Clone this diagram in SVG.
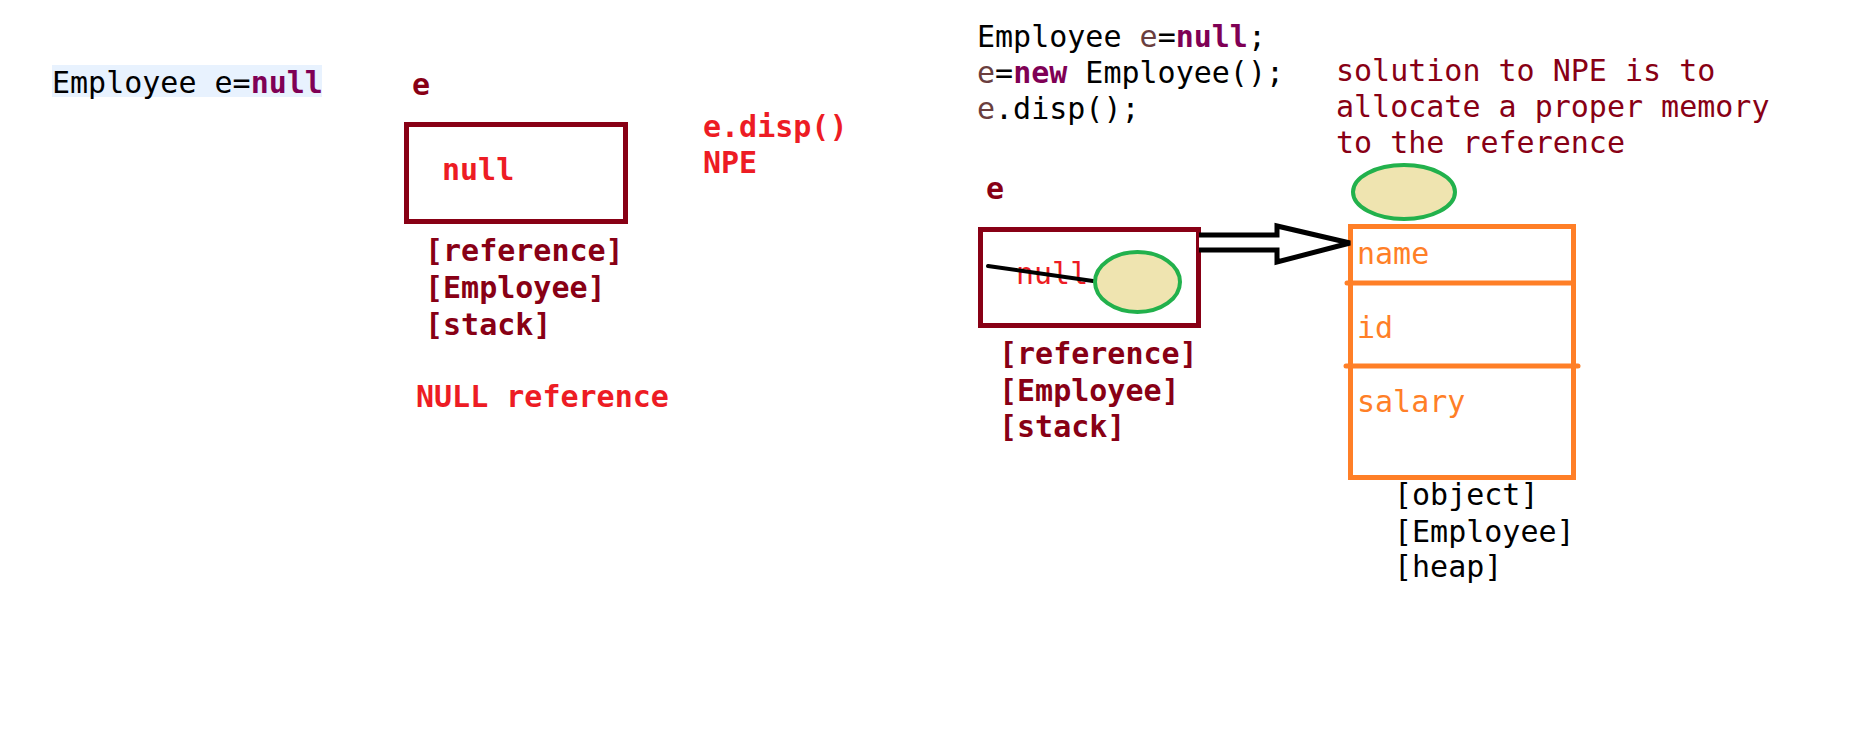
<svg xmlns="http://www.w3.org/2000/svg" width="1852" height="743" viewBox="0 0 1852 743">
<style>
text { font-family: "DejaVu Sans Mono", "Liberation Mono", monospace; font-size: 30px; }
.b { font-weight: bold; }
.dr { fill: #880015; }
.rd { fill: #ED1C24; }
.or { fill: #FF7F27; }
.bk { fill: #000000; }
.kw { fill: #7F0055; font-weight: bold; }
.lv { fill: #6A3E3E; }
.refbox { fill: none; stroke: #880015; stroke-width: 5; }
.objbox { fill: none; stroke: #FF7F27; stroke-width: 5; stroke-linecap: round; }
.blob { fill: #EFE4B0; stroke: #22B14C; stroke-width: 4; }
</style>
<rect width="1852" height="743" fill="#ffffff"/>

<g id="code-left">
  <rect x="52" y="65" width="270" height="32" fill="#E8F2FE"/>
  <text x="52" y="93" class="bk" font-size="29">Employee e=<tspan class="kw">null</tspan></text>
</g>

<g id="ref-null">
  <text x="412" y="95" class="b dr">e</text>
  <rect x="406.5" y="124.5" width="219" height="97" class="refbox"/>
  <text x="442" y="180" class="b rd">null</text>
  <text x="425" y="261" class="b dr">[reference]</text>
  <text x="425" y="298" class="b dr">[Employee]</text>
  <text x="425" y="335" class="b dr">[stack]</text>
  <text x="416" y="407" class="b rd">NULL reference</text>
</g>

<g id="npe-note">
  <text x="703" y="137" class="b rd">e.disp()</text>
  <text x="703" y="173" class="b rd">NPE</text>
</g>

<g id="code-right">
  <text x="977" y="47" class="bk">Employee <tspan class="lv">e</tspan>=<tspan class="kw">null</tspan>;</text>
  <text x="977" y="83" class="bk"><tspan class="lv">e</tspan>=<tspan class="kw">new</tspan> Employee();</text>
  <text x="977" y="119" class="bk"><tspan class="lv">e</tspan>.disp();</text>
</g>

<g id="solution-note">
  <text x="1336" y="81" class="dr">solution to NPE is to</text>
  <text x="1336" y="117" class="dr">allocate a proper memory</text>
  <text x="1336" y="153" class="dr">to the reference</text>
</g>

<g id="ref-e">
  <text x="986" y="199" class="b dr">e</text>
  <rect x="980.5" y="229.5" width="218" height="96" class="refbox"/>
  <text x="1016" y="284" class="rd">null</text>
  <line x1="988" y1="266" x2="1093" y2="281" stroke="#000000" stroke-width="4" stroke-linecap="round"/>
  <ellipse cx="1137.5" cy="282" rx="42.5" ry="30" class="blob"/>
  <text x="999" y="364" class="b dr">[reference]</text>
  <text x="999" y="401" class="b dr">[Employee]</text>
  <text x="999" y="437" class="b dr">[stack]</text>
</g>

<g id="object-employee">
  <ellipse cx="1404" cy="192" rx="51" ry="27" class="blob"/>
  <rect x="1350.5" y="226.5" width="223" height="251" class="objbox"/>
  <line x1="1347" y1="283" x2="1573" y2="283" class="objbox"/>
  <line x1="1346" y1="366" x2="1578" y2="366" class="objbox"/>
  <text x="1357" y="264" class="or">name</text>
  <text x="1357" y="338" class="or">id</text>
  <text x="1357" y="412" class="or">salary</text>
  <text x="1394" y="505" class="bk">[object]</text>
  <text x="1394" y="542" class="bk">[Employee]</text>
  <text x="1394" y="577" class="bk">[heap]</text>
</g>

<g id="connectors">
  <polyline points="1199,235 1277,235 1277,226 1350,243 1277,262 1277,250 1199,250" fill="#ffffff" stroke="#000000" stroke-width="5" stroke-linejoin="miter"/>
</g>
</svg>
